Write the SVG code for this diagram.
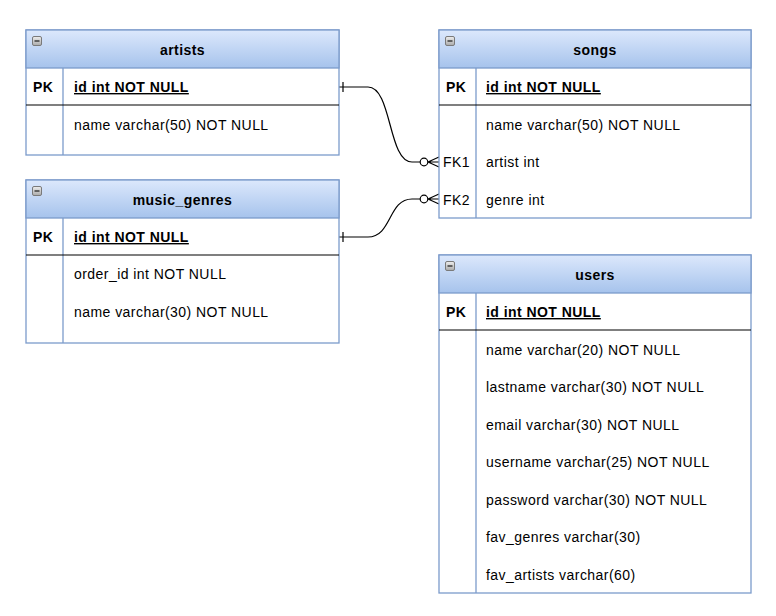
<svg xmlns="http://www.w3.org/2000/svg" width="776" height="616" viewBox="0 0 776 616">
<defs>
<linearGradient id="hdr" x1="0" y1="0" x2="0" y2="1">
<stop offset="0" stop-color="#dce8fc"/>
<stop offset="1" stop-color="#a6c3ec"/>
</linearGradient>
<linearGradient id="ico" x1="0" y1="0" x2="0" y2="1">
<stop offset="0" stop-color="#eeeeee"/>
<stop offset="1" stop-color="#aaaaaa"/>
</linearGradient>
<g id="collapse">
<rect x="0.5" y="0.5" width="9" height="9" rx="1.5" fill="url(#ico)" stroke="#7a7a7a" stroke-width="1"/>
<line x1="2.5" y1="5" x2="7.5" y2="5" stroke="#333" stroke-width="1.4"/>
</g>
</defs>
<style>
.box{fill:#ffffff;stroke:#7c9bcb;stroke-width:1.3}
.head{fill:url(#hdr);stroke:#7c9bcb;stroke-width:1.3}
.sep{stroke:#000;stroke-width:1.2}
.vsep{stroke:#7c9bcb;stroke-width:1.3}
text{font-family:"Liberation Sans",Arial,sans-serif;font-size:14px;letter-spacing:0.45px;fill:#000}
.title{font-weight:bold;text-anchor:middle}
.pk{font-weight:bold}
.pkf{font-weight:bold;text-decoration:underline}
.edge{fill:none;stroke:#000;stroke-width:1.2}
</style>
<rect width="776" height="616" fill="#ffffff"/>

<g id="connectors">
<path class="edge" d="M339,87 H368 C392,87 388,162 412,162 H420"/>
<line class="edge" x1="343" y1="82" x2="343" y2="92"/>
<circle class="edge" cx="424" cy="162" r="3.8"/>
<path class="edge" d="M428,162 L439,157 M428,162 L439,162 M428,162 L439,167"/>
<path class="edge" d="M339,237 H368 C392,237 388,199 412,199 H420"/>
<line class="edge" x1="343" y1="232" x2="343" y2="242"/>
<circle class="edge" cx="424" cy="199" r="3.8"/>
<path class="edge" d="M428,199 L439,194 M428,199 L439,199 M428,199 L439,204"/>
</g>

<g id="artists">
<rect class="box" x="26" y="30" width="313" height="125"/>
<rect class="head" x="26" y="30" width="313" height="38"/>
<use href="#collapse" x="32" y="36"/>
<text class="title" x="182.5" y="55">artists</text>
<line class="vsep" x1="63" y1="68" x2="63" y2="155"/>
<line class="sep" x1="26" y1="105" x2="339" y2="105"/>
<text class="pk" x="33" y="92">PK</text>
<text class="pkf" x="74" y="92">id int NOT NULL</text>
<text x="74" y="130">name varchar(50) NOT NULL</text>
</g>

<g id="music_genres">
<rect class="box" x="26" y="180" width="313" height="163"/>
<rect class="head" x="26" y="180" width="313" height="38"/>
<use href="#collapse" x="32" y="186"/>
<text class="title" x="182.5" y="205">music_genres</text>
<line class="vsep" x1="63" y1="218" x2="63" y2="343"/>
<line class="sep" x1="26" y1="255" x2="339" y2="255"/>
<text class="pk" x="33" y="242">PK</text>
<text class="pkf" x="74" y="242">id int NOT NULL</text>
<text x="74" y="279">order_id int NOT NULL</text>
<text x="74" y="317">name varchar(30) NOT NULL</text>
</g>

<g id="songs">
<rect class="box" x="439" y="30" width="312" height="188"/>
<rect class="head" x="439" y="30" width="312" height="38"/>
<use href="#collapse" x="445" y="36"/>
<text class="title" x="595" y="55">songs</text>
<line class="vsep" x1="476" y1="68" x2="476" y2="218"/>
<line class="sep" x1="439" y1="105" x2="751" y2="105"/>
<text class="pk" x="446" y="92">PK</text>
<text class="pkf" x="486" y="92">id int NOT NULL</text>
<text x="486" y="130">name varchar(50) NOT NULL</text>
<text x="443" y="167">FK1</text>
<text x="486" y="167">artist int</text>
<text x="443" y="205">FK2</text>
<text x="486" y="205">genre int</text>
</g>

<g id="users">
<rect class="box" x="439" y="255" width="312" height="338"/>
<rect class="head" x="439" y="255" width="312" height="38"/>
<use href="#collapse" x="445" y="261"/>
<text class="title" x="595" y="280">users</text>
<line class="vsep" x1="476" y1="293" x2="476" y2="593"/>
<line class="sep" x1="439" y1="330" x2="751" y2="330"/>
<text class="pk" x="446" y="317">PK</text>
<text class="pkf" x="486" y="317">id int NOT NULL</text>
<text x="486" y="355">name varchar(20) NOT NULL</text>
<text x="486" y="392">lastname varchar(30) NOT NULL</text>
<text x="486" y="430">email varchar(30) NOT NULL</text>
<text x="486" y="467">username varchar(25) NOT NULL</text>
<text x="486" y="505">password varchar(30) NOT NULL</text>
<text x="486" y="542">fav_genres varchar(30)</text>
<text x="486" y="580">fav_artists varchar(60)</text>
</g>
</svg>
